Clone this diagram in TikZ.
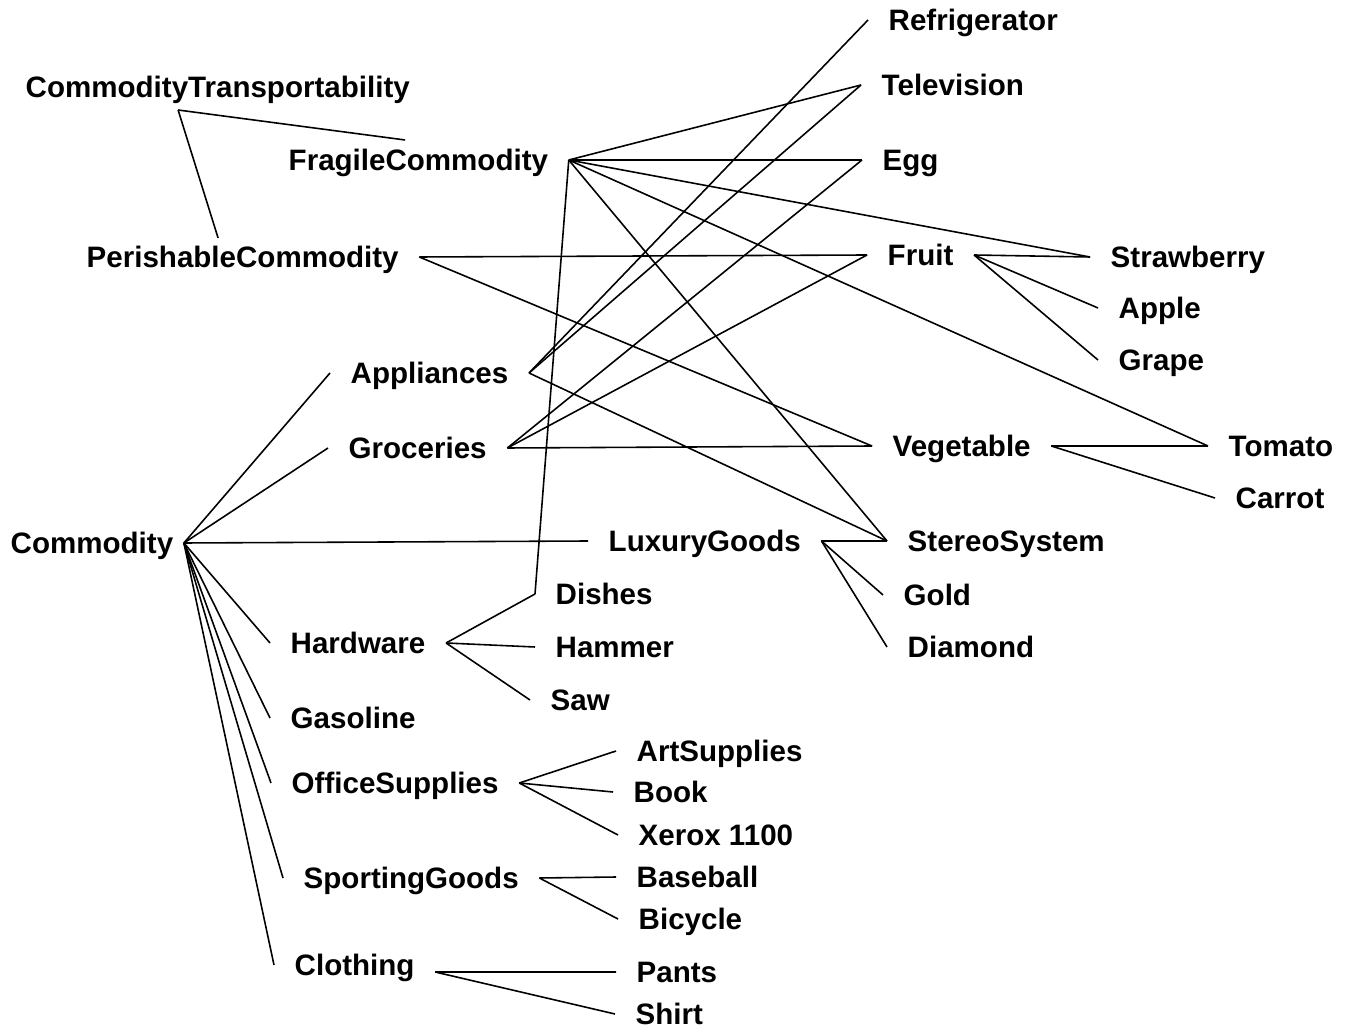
\documentclass[tikz,border=0pt]{standalone}
\usepackage{fontspec}
\setmainfont{Liberation Sans}
\usepackage{tikz}

\tikzset{
	item/.style={font=\fontsize{8.4}{10}\selectfont\bfseries, anchor=west, inner xsep=0.2cm, inner ysep=0pt, text height=0.58em, text depth=0pt},
	link/.style={line width=0.45pt}
}

\begin{document}
\begin{tikzpicture}[x=0.01cm, y=-0.01cm]
				\useasboundingbox (0,0) rectangle (1346,1028);
				\node[item] (ct) at (5,87) {CommodityTransportability};
				\node[item] (fragile) at (268,160) {FragileCommodity};
				\node[item] (perish) at (66,257) {PerishableCommodity};
				\node[item] (commodity) at (-10,543) {Commodity};
				\node[item] (appl) at (330,373) {Appliances};
				\node[item] (groc) at (328,448) {Groceries};
				\node[item] (lux) at (588,541) {LuxuryGoods};
				\node[item] (hardware) at (270,643) {Hardware};
				\node[item] (gas) at (270,718) {Gasoline};
				\node[item] (office) at (271,783) {OfficeSupplies};
				\node[item] (sport) at (283,878) {SportingGoods};
				\node[item] (clothing) at (274,965) {Clothing};
				\node[item] (refr) at (868,20) {Refrigerator};
				\node[item] (tv) at (861,85) {Television};
				\node[item] (egg) at (862,160) {Egg};
				\node[item] (fruit) at (867,255) {Fruit};
				\node[item] (veg) at (872,446) {Vegetable};
				\node[item] (stereo) at (887,541) {StereoSystem};
				\node[item] (gold) at (883,595) {Gold};
				\node[item] (diamond) at (887,647) {Diamond};
				\node[item] (straw) at (1090,257) {Strawberry};
				\node[item] (apple) at (1098,308) {Apple};
				\node[item] (grape) at (1098,360) {Grape};
				\node[item] (tomato) at (1208,446) {Tomato};
				\node[item] (carrot) at (1215,498) {Carrot};
				\node[item] (dishes) at (535,594) {Dishes};
				\node[item] (hammer) at (535,647) {Hammer};
				\node[item] (saw) at (530,700) {Saw};
				\node[item] (art) at (616,751) {ArtSupplies};
				\node[item] (book) at (613,792) {Book};
				\node[item] (xerox) at (618,835) {Xerox 1100};
				\node[item] (baseball) at (616,877) {Baseball};
				\node[item] (bicycle) at (618,919) {Bicycle};
				\node[item] (pants) at (616,972) {Pants};
				\node[item] (shirt) at (615,1014) {Shirt};

				\draw[link] ([xshift=1.73cm,yshift=-0.23cm]ct.west) -- ([xshift=1.37cm,yshift=0.2cm]fragile.west);
				\draw[link] ([xshift=1.73cm,yshift=-0.23cm]ct.west) -- ([xshift=1.52cm,yshift=0.19cm]perish.west);

				\draw[link] (fragile.east) -- (tv.west);
				\draw[link] (fragile.east) -- (egg.west);
				\draw[link] (fragile.east) -- (straw.west);
				\draw[link] (fragile.east) -- (tomato.west);
				\draw[link] (fragile.east) -- (stereo.west);
				\draw[link] (fragile.east) -- (dishes.west);
				\draw[link] (perish.east) -- (fruit.west);
				\draw[link] (perish.east) -- (veg.west);

				\draw[link] ([xshift=-0.1cm]commodity.east) -- (appl.west);
				\draw[link] ([xshift=-0.1cm]commodity.east) -- (groc.west);
				\draw[link] ([xshift=-0.1cm]commodity.east) -- (lux.west);
				\draw[link] ([xshift=-0.1cm]commodity.east) -- (hardware.west);
				\draw[link] ([xshift=-0.1cm]commodity.east) -- (gas.west);
				\draw[link] ([xshift=-0.1cm]commodity.east) -- (office.west);
				\draw[link] ([xshift=-0.1cm]commodity.east) -- (sport.west);
				\draw[link] ([xshift=-0.1cm]commodity.east) -- (clothing.west);

				\draw[link] (appl.east) -- (refr.west);
				\draw[link] (appl.east) -- (tv.west);
				\draw[link] (appl.east) -- (stereo.west);
				\draw[link] (groc.east) -- (egg.west);
				\draw[link] (groc.east) -- (fruit.west);
				\draw[link] (groc.east) -- (veg.west);
				\draw[link] (lux.east) -- (stereo.west);
				\draw[link] (lux.east) -- (gold.west);
				\draw[link] (lux.east) -- (diamond.west);
				\draw[link] (fruit.east) -- (straw.west);
				\draw[link] (fruit.east) -- (apple.west);
				\draw[link] (fruit.east) -- (grape.west);
				\draw[link] (veg.east) -- (tomato.west);
				\draw[link] (veg.east) -- (carrot.west);

				\draw[link] (hardware.east) -- (dishes.west);
				\draw[link] (hardware.east) -- (hammer.west);
				\draw[link] (hardware.east) -- (saw.west);
				\draw[link] (office.east) -- (art.west);
				\draw[link] (office.east) -- (book.west);
				\draw[link] (office.east) -- (xerox.west);
				\draw[link] (sport.east) -- (baseball.west);
				\draw[link] (sport.east) -- (bicycle.west);
				\draw[link] ([yshift=-0.07cm]clothing.east) -- (pants.west);
				\draw[link] ([yshift=-0.07cm]clothing.east) -- (shirt.west);
\end{tikzpicture}
\end{document}
